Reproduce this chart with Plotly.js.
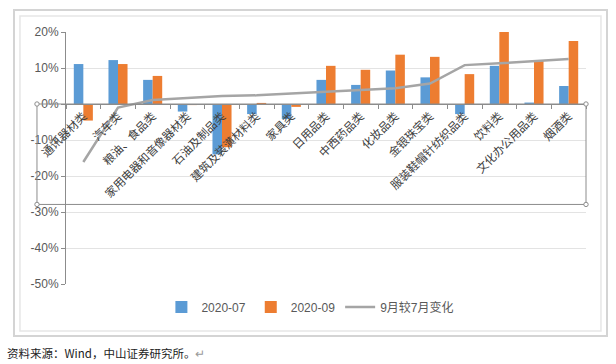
<!DOCTYPE html>
<html>
<head>
<meta charset="utf-8">
<script src="https://cdn.plot.ly/plotly-3.0.1.min.js"></script>
<style>
  html, body { margin: 0; padding: 0; background: #ffffff; }
  #chart { width: 616px; height: 364px; }
</style>
</head>
<body>
<div id="chart"></div>
<script>
// ---- data (values in %) ----
const categories = ['通讯器材类', '汽车类', '粮油、食品类', '家用电器和音像器材类', '石油及制品类',
  '建筑及装潢材料类', '家具类', '日用品类', '中西药品类', '化妆品类',
  '金银珠宝类', '服装鞋帽针纺织品类', '饮料类', '文化办公用品类', '烟酒类'];
const jul2020 = [11.1, 12.2, 6.7, -2.1, -14.0, -2.8, -4.2, 6.7, 5.3, 9.3, 7.4, -2.8, 10.6, 0.4, 5.0];
const sep2020 = [-4.6, 11.1, 7.8, -0.3, -12.0, 0.3, -0.8, 10.6, 9.5, 13.7, 13.1, 8.3, 20.0, 12.1, 17.5];
const change = [-16.1, -1.0, 1.1, 1.6, 2.2, 2.4, 3.0, 3.4, 3.9, 4.4, 5.7, 10.8, 11.3, 11.8, 12.5];
const seriesNames = ['2020-07', '2020-09', '9月较7月变化'];
const yTickVals = [20, 10, 0, -10, -20, -30, -40, -50];
const yTickText = ['20%', '10%', '0%', '-10%', '-20%', '-30%', '-40%', '-50%'];
const sourceText = '资料来源：Wind，中山证券研究所。';

const traces = [
  { type: 'bar', name: seriesNames[0], x: categories, y: jul2020,
    marker: { color: '#5b9bd5' }, hoverinfo: 'skip' },
  { type: 'bar', name: seriesNames[1], x: categories, y: sep2020,
    marker: { color: '#ed7d31' }, hoverinfo: 'skip' },
  { type: 'scatter', mode: 'lines', name: seriesNames[2], x: categories, y: change,
    line: { color: '#a5a5a5', width: 2.5, shape: 'linear' }, hoverinfo: 'skip' }
];

// handle circles for the selected (secondary) plot-area box
const boxBottom = -27.9;
const hx = 2.2 / 520, hy = 2.2 / 3.6;
function handle(px, vy) {
  return { type: 'circle', xref: 'paper', yref: 'y', x0: px - hx, x1: px + hx, y0: vy - hy, y1: vy + hy,
    line: { color: '#8c8c8c', width: 1 }, fillcolor: '#ffffff', layer: 'above' };
}

const layout = {
  width: 616, height: 364,
  margin: { l: 66, r: 30, t: 32, b: 80 },
  paper_bgcolor: '#ffffff', plot_bgcolor: 'rgba(0,0,0,0)',
  font: { family: 'Liberation Sans, Arial, sans-serif', size: 12, color: '#595959' },
  barmode: 'group', bargap: 0.45, bargroupgap: 0,
  showlegend: true,
  legend: { orientation: 'h', x: 0.47, y: -0.091, xanchor: 'center', yanchor: 'middle',
    font: { family: 'Liberation Sans, "Noto Sans CJK SC", sans-serif', size: 12, color: '#595959' },
    itemwidth: 30, tracegroupgap: 0, bgcolor: 'rgba(0,0,0,0)' },
  xaxis: {
    type: 'category', anchor: 'free', position: 50 / 70,
    showline: true, linecolor: '#8c8c8c', linewidth: 1,
    ticks: 'outside', tickson: 'boundaries', ticklen: 4, tickcolor: '#8c8c8c',
    tickangle: -45, showgrid: false, zeroline: false,
    tickfont: { family: '"Noto Sans CJK SC", sans-serif', size: 11.5, color: '#404040' },
    range: [-0.5, categories.length - 0.5]
  },
  yaxis: {
    range: [-50, 20], tickvals: yTickVals, ticktext: yTickText,
    showline: true, linecolor: '#8c8c8c', linewidth: 1,
    ticks: 'outside', ticklen: 4, tickcolor: '#8c8c8c',
    showgrid: true, gridcolor: '#e3e3e3', gridwidth: 1, zeroline: false,
    tickfont: { family: 'Liberation Sans, Arial, sans-serif', size: 12, color: '#595959' }
  },
  shapes: [
    // outer chart frame (double light border)
    { type: 'rect', xref: 'paper', yref: 'paper', x0: -0.1, x1: 1.0404, y0: -0.2063, y1: 1.0873,
      line: { color: '#d4d4d4', width: 2 }, layer: 'below' },
    { type: 'rect', xref: 'paper', yref: 'paper', x0: -0.0885, x1: 1.0288, y0: -0.1865, y1: 1.0635,
      line: { color: '#e6e6e6', width: 1.5 }, layer: 'below' },
    // selected secondary plot-area box
    { type: 'rect', xref: 'paper', yref: 'y', x0: -0.0558, x1: 1.0, y0: boxBottom, y1: 0,
      line: { color: '#8c8c8c', width: 1 }, layer: 'above' },
    handle(-0.0558, 0), handle(1.0, 0), handle(-0.0558, boxBottom), handle(1.0, boxBottom)
  ],
  annotations: [
    { xref: 'paper', yref: 'paper', x: -0.117, y: -0.274, xanchor: 'left', yanchor: 'middle',
      showarrow: false, text: sourceText + '<span style="color:#9a9a9a">↵</span>',
      font: { family: '"Noto Sans CJK SC", sans-serif', size: 11.5, color: '#222222' } }
  ]
};

Plotly.newPlot('chart', traces, layout, { displayModeBar: false, staticPlot: true });
</script>
</body>
</html>
